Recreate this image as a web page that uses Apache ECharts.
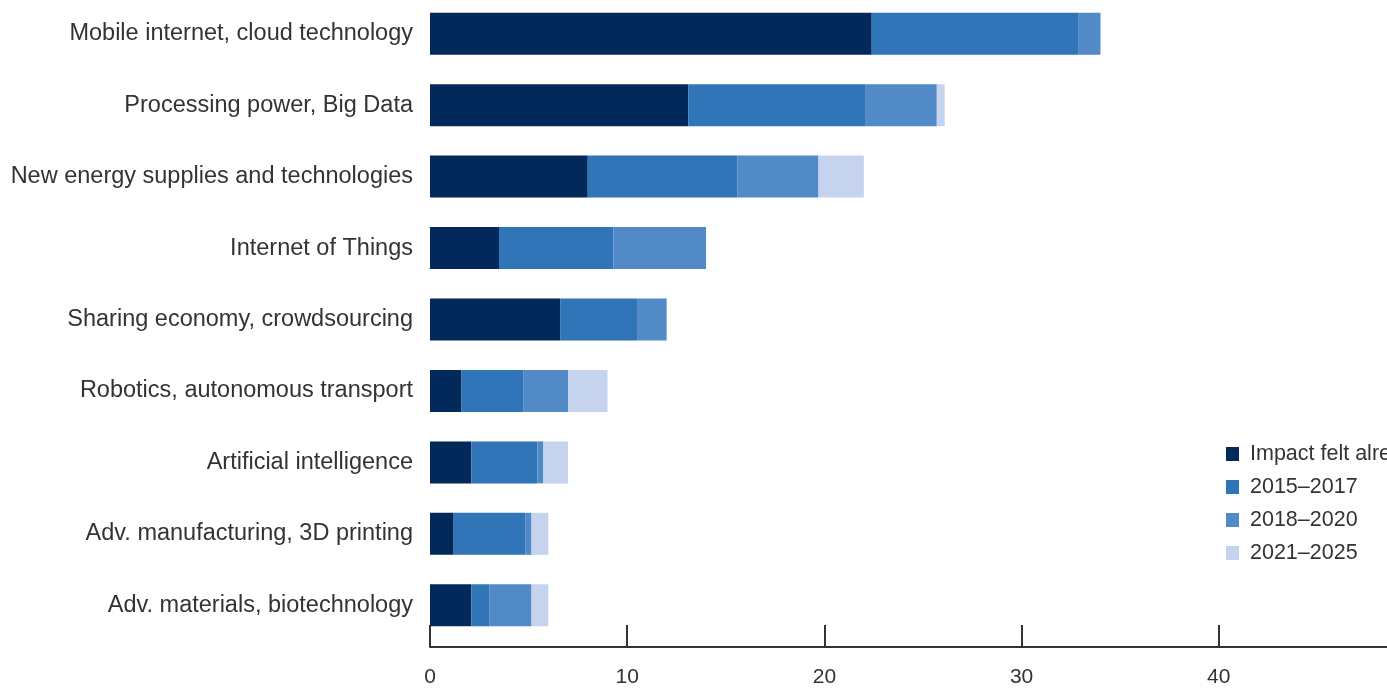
<!DOCTYPE html>
<html>
<head>
<meta charset="utf-8">
<script src="https://cdn.jsdelivr.net/npm/echarts@6/dist/echarts.min.js"></script>
<style>
  html, body { margin: 0; padding: 0; background: #fff; }
  #chart { width: 1387px; height: 689px; }
</style>
</head>
<body>
<div id="chart"></div>
<script>
// categories top to bottom
const categories = [
  'Mobile internet, cloud technology',
  'Processing power, Big Data',
  'New energy supplies and technologies',
  'Internet of Things',
  'Sharing economy, crowdsourcing',
  'Robotics, autonomous transport',
  'Artificial intelligence',
  'Adv. manufacturing, 3D printing',
  'Adv. materials, biotechnology',
];
const seriesNames = ['Impact felt already', '2015–2017', '2018–2020', '2021–2025'];
const impactFelt = [22.4, 13.1, 8.0, 3.5, 6.6, 1.6, 2.1, 1.2, 2.1];
const y2015_2017 = [10.5, 9.0, 7.6, 5.8, 3.9, 3.15, 3.35, 3.65, 0.9];
const y2018_2020 = [1.1, 3.6, 4.1, 4.7, 1.5, 2.25, 0.3, 0.3, 2.15];
const y2021_2025 = [0, 0.4, 2.3, 0, 0, 2.0, 1.25, 0.85, 0.85];
const xTicks = [0, 10, 20, 30, 40, 50];

const colors = ['#03295a', '#2f75b8', '#528ac8', '#c5d3ee'];
const font = 'Liberation Sans, Arial, Helvetica, sans-serif';

const chart = echarts.init(document.getElementById('chart'), null, {renderer: 'canvas'});

const values = [impactFelt, y2015_2017, y2018_2020, y2021_2025];

chart.setOption({
  animation: false,
  color: colors,
  grid: {
    left: 430,
    right: -29,   // axis runs on past the right edge (picture is cropped)
    top: -2,
    bottom: 48,
    containLabel: false,
    outerBoundsMode: 'none',
  },
  legend: {
    orient: 'vertical',
    left: 1221,
    top: 438,
    itemWidth: 13,
    itemHeight: 14,
    itemGap: 11,
    icon: 'rect',
    data: seriesNames,
    textStyle: {
      fontFamily: font,
      fontSize: 21.5,
      lineHeight: 22,
      color: '#333',
      padding: [0, 0, 0, 6],
    },
  },
  xAxis: {
    type: 'value',
    min: xTicks[0],
    max: xTicks[xTicks.length - 1],
    interval: 10,
    offset: 6,
    splitLine: {show: false},
    axisLine: {show: true, lineStyle: {color: '#333', width: 2}},
    axisTick: {show: true, inside: true, length: 22, lineStyle: {color: '#333', width: 2}},
    axisLabel: {
      fontFamily: font,
      fontSize: 21,
      color: '#333',
      margin: 20,
    },
  },
  yAxis: {
    type: 'category',
    inverse: true,
    data: categories,
    axisLine: {show: false},
    axisTick: {show: false},
    axisLabel: {
      fontFamily: font,
      fontSize: 23.5,
      color: '#333',
      margin: 17,
    },
  },
  series: seriesNames.map((name, i) => ({
    name: name,
    type: 'bar',
    stack: 'total',
    barWidth: 42,
    data: values[i],
    itemStyle: {color: colors[i]},
  })),
});
</script>
</body>
</html>
